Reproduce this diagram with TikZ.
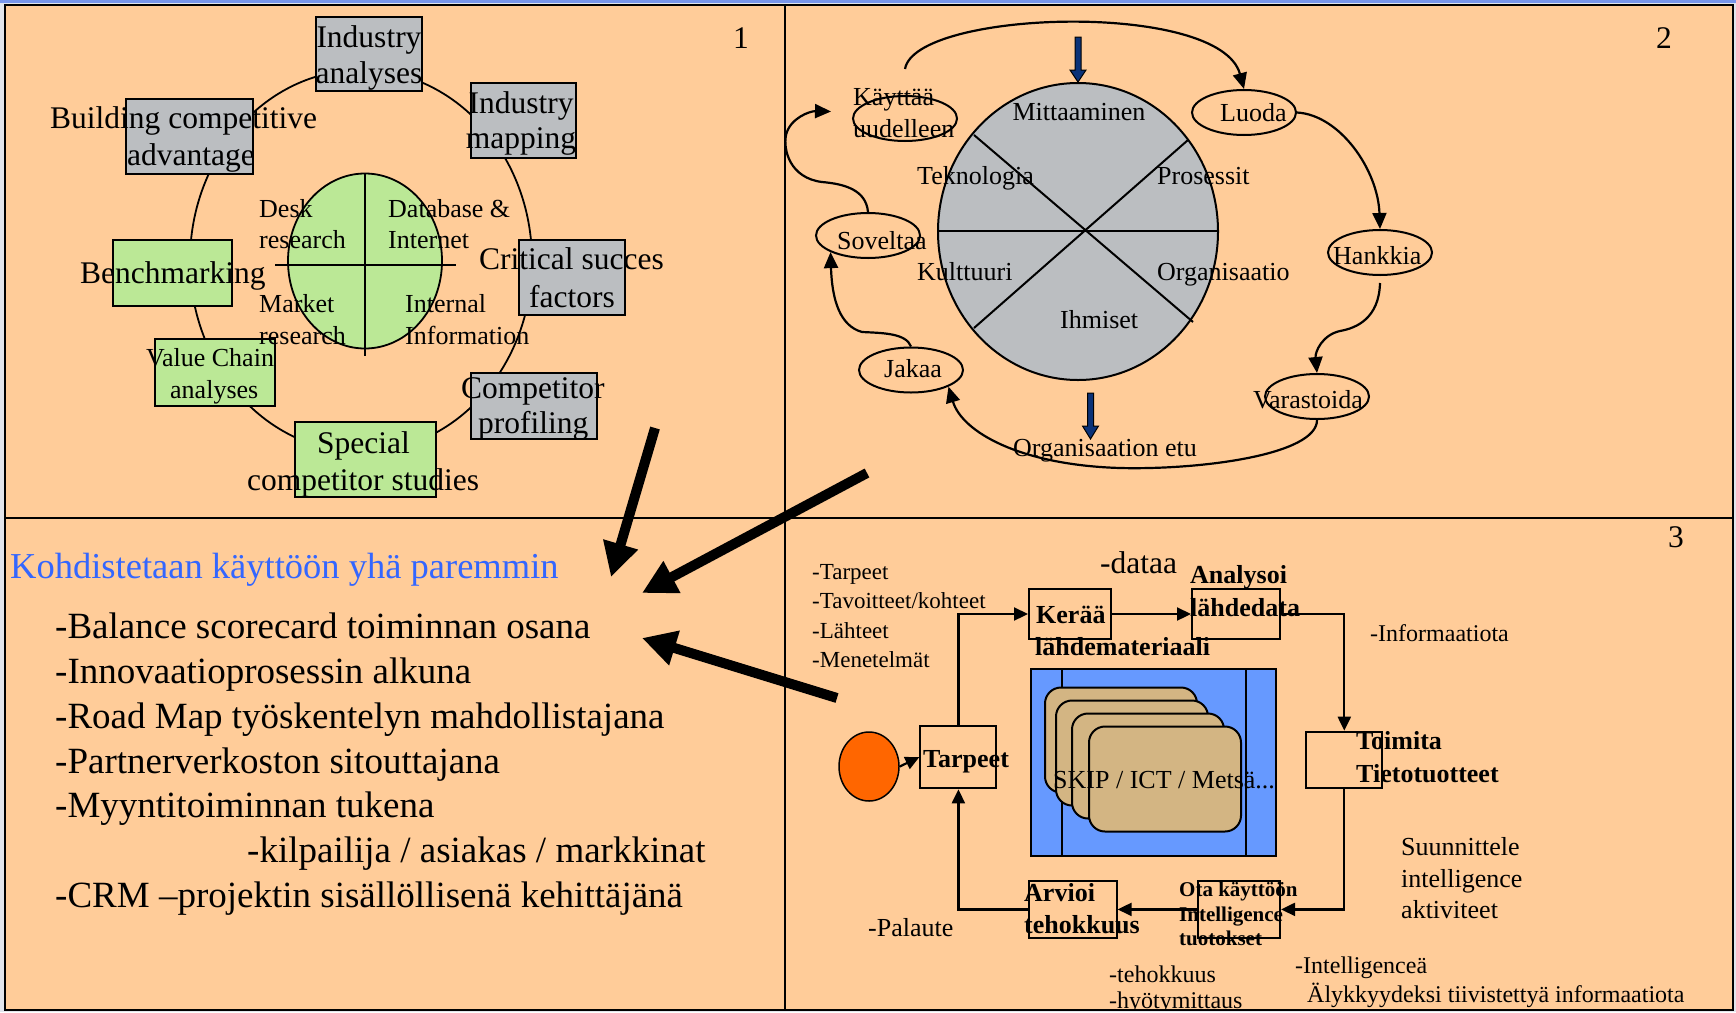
\documentclass[tikz,border=0pt]{standalone}
\usepackage{fontspec}
\setmainfont{Liberation Serif}
\usetikzlibrary{arrows.meta,shapes.geometric}
\definecolor{bgpeach}{RGB}{255,204,153}
\definecolor{outergray}{RGB}{226,229,236}
\definecolor{topblue}{RGB}{120,150,235}
\definecolor{boxgray}{RGB}{187,190,193}
\definecolor{boxgreen}{RGB}{187,232,150}
\definecolor{skyfill}{RGB}{102,153,255}
\definecolor{tancard}{RGB}{211,181,131}
\definecolor{navyarrow}{RGB}{10,50,120}
\definecolor{headblue}{RGB}{51,102,255}
\definecolor{orangefill}{RGB}{255,102,0}
\newcommand{\pxf}[1]{\fontsize{#1pt}{#1pt}\selectfont}
\begin{document}
\begin{tikzpicture}[x=1pt,y=-1pt,
  lb/.style={inner sep=0pt, anchor=base west},
  lbc/.style={inner sep=0pt, anchor=base},
  graybox/.style={draw, line width=2pt, fill=boxgray, inner sep=0pt},
  greenbox/.style={draw, line width=2pt, fill=boxgreen, inner sep=0pt},
  wbox/.style={draw, line width=2pt, inner sep=0pt},
  oval/.style={draw, ellipse, line width=2pt, inner sep=0pt, minimum width=104pt, minimum height=45pt},
  flow/.style={line width=2.2pt, -{Triangle[length=16pt,width=14pt]}},
  conn/.style={line width=2.2pt, -{Triangle[length=14pt,width=13pt]}},
  bigarrow/.style={line width=10pt, -{Triangle[length=34pt,width=34pt]}},
  card/.style={draw, line width=2pt, fill=tancard, rounded corners=16pt, minimum width=152pt, minimum height=105pt, inner sep=0pt},
  f31/.style={font=\pxf{31.5}},
  f26/.style={font=\pxf{26}},
  f24/.style={font=\pxf{24}},
  f23/.style={font=\pxf{23}},
  b26/.style={font=\pxf{26}\bfseries},
  b21/.style={font=\pxf{21}\bfseries},
  f37/.style={font=\pxf{37}}
]
\useasboundingbox (0,0) rectangle (1736,1012);
\fill[outergray] (0,0) rectangle (1736,1012);
\fill[topblue] (0,0) rectangle (1736,3);
\fill[bgpeach] (5,5) rectangle (1733,1010);

% ---------------- Panel 1 ----------------
\draw[line width=1.8pt] (361,261) ellipse [x radius=171pt, y radius=191pt];
\node[graybox, minimum width=106pt, minimum height=74pt] (ia) at (369,54) {};
\node[graybox, minimum width=105pt, minimum height=75pt] (im) at (523.5,120.5) {};
\node[graybox, minimum width=127pt, minimum height=75pt] (bca) at (189.5,136.5) {};
\node[greenbox, minimum width=119pt, minimum height=66pt] (bm) at (172.5,273) {};
\node[graybox, minimum width=106pt, minimum height=75pt] (csf) at (572,277.5) {};
\node[greenbox, minimum width=120pt, minimum height=67pt] (vca) at (215,372.5) {};
\node[graybox, minimum width=126pt, minimum height=66pt] (cp) at (534,406) {};
\node[greenbox, minimum width=141pt, minimum height=75pt] (scs) at (365.5,459.5) {};
\node[draw, ellipse, fill=boxgreen, line width=1.8pt, minimum width=154pt, minimum height=175pt, inner sep=0pt] (core) at (365,261) {};
\draw[line width=2pt] (275,265) -- (456,265);
\draw[line width=2pt] (365,173) -- (365,356);

\node[lbc,f31] (t1a) at (369,47) {Industry};
\node[lbc,f31] (t1b) at (369,83) {analyses};
\node[lbc,f31] (t2a) at (521,113) {Industry};
\node[lbc,f31] (t2b) at (521,148) {mapping};
\node[lb,f31] (t3a) at (50,128) {Building competitive};
\node[lb,f31] (t3b) at (127,165) {advantage};
\node[lb,f31] (t4) at (80,283) {Benchmarking};
\node[lb,f31] (t5a) at (479,269) {Critical succes};
\node[lb,f31] (t5b) at (529,307) {factors};
\node[lb,f26] (t6a) at (146,366) {Value Chain};
\node[lb,f26] (t6b) at (170,398) {analyses};
\node[lb,f31] (t7a) at (461,398) {Competitor};
\node[lb,f31] (t7b) at (478,433) {profiling};
\node[lb,f31] (t8a) at (317,453) {Special};
\node[lb,f31] (t8b) at (247,490) {competitor studies};
\node[lb,f26] (c1a) at (259,217) {Desk};
\node[lb,f26] (c1b) at (259,248) {research};
\node[lb,f26] (c2a) at (388,217) {Database \&};
\node[lb,f26] (c2b) at (388,248) {Internet};
\node[lb,f26] (c3a) at (259,312) {Market};
\node[lb,f26] (c3b) at (259,344) {research};
\node[lb,f26] (c4a) at (405,312) {Internal};
\node[lb,f26] (c4b) at (405,344) {Information};
\node[lbc,f31] (n1) at (741,48) {1};

% ---------------- Panel 2 ----------------
\node[draw, ellipse, fill=boxgray, line width=2pt, minimum width=280pt, minimum height=297pt, inner sep=0pt] (wheel) at (1078,231.5) {};
\draw[line width=2pt] (938,231) -- (1218,231);
\draw[line width=2pt] (974,135) -- (1193,322);
\draw[line width=2pt] (1188,140) -- (974,328);
\node[lbc,f26] (w1) at (1079,120) {Mittaaminen};
\node[lb,f26] (w2) at (917,184) {Teknologia};
\node[lb,f26] (w3) at (1157,184) {Prosessit};
\node[lb,f26] (w4) at (917,280) {Kulttuuri};
\node[lb,f26] (w5) at (1157,280) {Organisaatio};
\node[lb,f26] (w6) at (1060,328) {Ihmiset};

\node[oval] (kay) at (905,118.5) {};
\node[oval] (luo) at (1244,112.5) {};
\node[oval] (han) at (1380,252.5) {};
\node[oval] (var) at (1317,396.5) {};
\node[oval] (jak) at (911,370) {};
\node[oval] (sov) at (868,235.5) {};

\node[lb,f26] (k1) at (853,105) {Käyttää};
\node[lb,f26] (k2) at (853,137) {uudelleen};
\node[lb,f26] (k3) at (1220,121) {Luoda};
\node[lb,f26] (k4) at (1333,264) {Hankkia};
\node[lb,f26] (k5) at (1253,408) {Varastoida};
\node[lb,f26] (k6) at (884,377) {Jakaa};
\node[lb,f26] (k7) at (837,249) {Soveltaa};
\node[lb,f26] (k8) at (1013,456) {Organisaation etu};
\node[lbc,f31] (n2) at (1664,48) {2};

\draw[flow] ([yshift=26pt]kay.north) .. controls (915,10) and (1220,0) .. (luo.north);
\draw[flow] (luo.east) .. controls (1340,115) and (1378,170) .. (han.north);
\draw[flow] ([yshift=-7pt]han.south) .. controls (1379,318) and (1357,328) .. (1340,331) .. controls (1322,335) and (1315,352) .. (var.north);
\draw[flow] (var.south) .. controls (1317,455) and (1200,470) .. (1120,468) .. controls (1020,465) and (962,432) .. (jak.south east);
\draw[flow] (jak.north) .. controls (906,333) and (882,333) .. (862,332) .. controls (840,326) and (832,300) .. (sov.south west);
\coordinate (kin) at ([xshift=-21pt,yshift=7pt]kay.west);
\draw[flow] (sov.north) .. controls (866,190) and (845,184) .. (822,182) .. controls (790,178) and (783,150) .. (786,135) .. controls (790,118) and (810,111) .. (kin);

% blue arrows
\fill[navyarrow, draw=black, line width=1pt] (1075,37) -- (1081,37) -- (1081,70) -- (1086,70) -- (wheel.north) -- (1070,70) -- (1075,70) -- cycle;
\fill[navyarrow, draw=black, line width=1pt] (1087.5,393) -- (1093.5,393) -- (1093.5,426) -- (1098.5,426) -- (1090.5,439) -- (1082.5,426) -- (1087.5,426) -- cycle;

% ---------------- Panel 3 ----------------
\node[draw, fill=skyfill, line width=2pt, minimum width=245pt, minimum height=187pt, inner sep=0pt] (skip) at (1153.5,762.5) {};
\draw[line width=2pt] (1062,669) -- (1062,856);
\draw[line width=2pt] (1246,669) -- (1246,856);
\node[card] (r1) at (1121,740) {};
\node[card] (r2) at (1132,753) {};
\node[card] (r3) at (1148,766) {};
\node[card] (r4) at (1165,779) {};
\node[lb,f26] (sk) at (1053,788) {SKIP / ICT / Metsä...};

\node[draw, ellipse, fill=orangefill, line width=1.5pt, minimum width=60pt, minimum height=69pt, inner sep=0pt] (orng) at (869,766.5) {};
\node[wbox, minimum width=76pt, minimum height=62.6pt] (tarp) at (958.4,757) {};
\node[wbox, minimum width=82pt, minimum height=50pt] (kera) at (1070,614) {};
\node[wbox, minimum width=88pt, minimum height=50pt] (anal) at (1236,614) {};
\node[wbox, minimum width=76pt, minimum height=56.6pt] (toim) at (1344.3,760) {};
\node[wbox, minimum width=82.3pt, minimum height=56.7pt] (otak) at (1238.9,909.4) {};
\node[wbox, minimum width=87.8pt, minimum height=56.7pt] (arvi) at (1072.7,909.4) {};

\draw[conn] (orng.east) -- (tarp.west);
\draw[conn] (tarp.north) |- (kera.west);
\draw[conn] (kera.east) -- (anal.west);
\draw[conn] (anal.east) -| (toim.north);
\draw[conn] (toim.south) |- (otak.east);
\draw[conn] (otak.west) -- (arvi.east);
\draw[conn] (arvi.west) -| (tarp.south);

\node[lbc,f31] (n3) at (1676,547) {3};
\node[lb,f23] (p1) at (812,579) {-Tarpeet};
\node[lb,f23] (p2) at (812,608) {-Tavoitteet/kohteet};
\node[lb,f23] (p3) at (812,638) {-Lähteet};
\node[lb,f23] (p4) at (812,667) {-Menetelmät};
\node[lb,f31] (p5) at (1100,573) {-dataa};
\node[lb,b26] (p6) at (1036,623) {Kerää};
\node[lb,b26] (p7) at (1035,655) {lähdemateriaali};
\node[lb,b26] (p8) at (1190,583) {Analysoi};
\node[lb,b26] (p9) at (1190,616) {lähdedata};
\node[lb,f24] (p10) at (1370,641) {-Informaatiota};
\node[lb,b26] (p11) at (1356,749) {Toimita};
\node[lb,b26] (p12) at (1356,782) {Tietotuotteet};
\node[lb,b26] (p13) at (923,767) {Tarpeet};
\node[lb,f26] (p14) at (1401,855) {Suunnittele};
\node[lb,f26] (p15) at (1401,887) {intelligence};
\node[lb,f26] (p16) at (1401,918) {aktiviteet};
\node[lb,b26] (p17) at (1024,901) {Arvioi};
\node[lb,b26] (p18) at (1024,933) {tehokkuus};
\node[lb,b21] (p19) at (1179,896) {Ota käyttöön};
\node[lb,b21] (p20) at (1179,921) {Intelligence};
\node[lb,b21] (p21) at (1179,945) {tuotokset};
\node[lb,f26] (p22) at (868,936) {-Palaute};
\node[lb,f24] (p23) at (1109,982) {-tehokkuus};
\node[lb,f24] (p25) at (1295,973) {-Intelligenceä};
\node[lb,f24] (p26) at (1307,1002) {Älykkyydeksi tiivistettyä informaatiota};
\begin{scope}
\clip (5,5) rectangle (1733,1009);
\node[lb,f24] (p24) at (1109,1008) {-hyötymittaus};
\end{scope}

% ---------------- Panel 4 ----------------
\node[lb,font=\pxf{36.5},text=headblue] (h0) at (10,578) {Kohdistetaan käyttöön yhä paremmin};
\node[lb,f37] (l1) at (55,638) {-Balance scorecard toiminnan osana};
\node[lb,f37] (l2) at (55,683) {-Innovaatioprosessin alkuna};
\node[lb,f37] (l3) at (55,728) {-Road Map työskentelyn mahdollistajana};
\node[lb,f37] (l4) at (55,773) {-Partnerverkoston sitouttajana};
\node[lb,f37] (l5) at (55,817) {-Myyntitoiminnan tukena};
\node[lb,f37] (l6) at (247,862) {-kilpailija / asiakas / markkinat};
\node[lb,f37] (l7) at (55,907) {-CRM –projektin sisällöllisenä kehittäjänä};

% ---------------- frame ----------------
\draw[line width=2pt] (5,5) rectangle (1733,1010);
\draw[line width=2pt] (785,5) -- (785,1010);
\draw[line width=2pt] (5,518) -- (1733,518);

% ---------------- big arrows ----------------
\coordinate (a1s) at (655,428);
\coordinate (a1e) at (611,577);
\coordinate (a2s) at (867,473);
\coordinate (a2e) at (642,593);
\coordinate (a3s) at (837,698);
\coordinate (a3e) at (642,638);
\draw[bigarrow] (a1s) -- (a1e);
\draw[bigarrow] (a2s) -- (a2e);
\draw[bigarrow] (a3s) -- (a3e);
\end{tikzpicture}
\end{document}
